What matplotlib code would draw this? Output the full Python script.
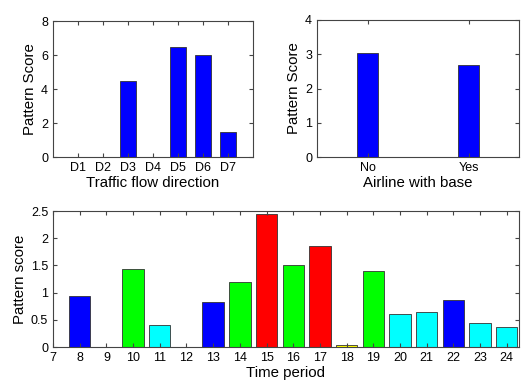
import numpy as np
import matplotlib
matplotlib.use('Agg')
import matplotlib.pyplot as plt

plt.rcParams['font.family'] = ['Liberation Sans', 'DejaVu Sans']

# Data
directions = ['D1', 'D2', 'D3', 'D4', 'D5', 'D6', 'D7']
direction_scores = [0, 0, 4.5, 0, 6.45, 6.0, 1.45]

airline_labels = ['No', 'Yes']
airline_scores = [3.05, 2.7]

periods = [8, 9, 10, 11, 12, 13, 14, 15, 16, 17, 18, 19, 20, 21, 22, 23, 24]
period_scores = [0.94, 0, 1.43, 0.41, 0, 0.83, 1.19, 2.45, 1.5, 1.86,
                 0.04, 1.39, 0.6, 0.65, 0.87, 0.45, 0.37]
period_colors = ['blue', 'blue', 'lime', 'cyan', 'cyan', 'blue', 'lime', 'red',
                 'lime', 'red', 'yellow', 'lime', 'cyan', 'cyan', 'blue', 'cyan', 'cyan']

W, H = 530, 387
fig = plt.figure(figsize=(W / 100, H / 100), dpi=100)


def add_ax(l, t, r, b):
    return fig.add_axes([l / W, 1 - b / H, (r - l) / W, (b - t) / H])


def style(ax):
    for s in ax.spines.values():
        s.set_color('#444444')
        s.set_linewidth(0.8)
    ax.tick_params(direction='in', top=True, right=True, labelsize=9,
                   length=3, color='#444444', pad=3.5)


# Top left
ax1 = add_ax(53, 21, 253, 157)
ax1.bar(np.arange(1, 8), direction_scores, width=0.62, color='blue',
        edgecolor='#333333', linewidth=0.6)
ax1.set_xlim(0, 8)
ax1.set_ylim(0, 8)
ax1.set_xticks(np.arange(1, 8))
ax1.set_xticklabels(directions)
ax1.set_yticks([0, 2, 4, 6, 8])
ax1.set_xlabel('Traffic flow direction', fontsize=10.8, labelpad=1.5)
ax1.set_ylabel('Pattern Score', fontsize=10.8, labelpad=3)
style(ax1)

# Top right
ax2 = add_ax(317, 20, 519, 157)
ax2.bar([1, 2], airline_scores, width=0.2, color='blue',
        edgecolor='#333333', linewidth=0.6)
ax2.set_xlim(0.5, 2.5)
ax2.set_ylim(0, 4)
ax2.set_xticks([1, 2])
ax2.set_xticklabels(airline_labels)
ax2.set_yticks([0, 1, 2, 3, 4])
ax2.set_xlabel('Airline with base', fontsize=10.8, labelpad=1.5)
ax2.set_ylabel('Pattern Score', fontsize=10.8, labelpad=3)
style(ax2)

# Bottom
ax3 = add_ax(53, 211, 519, 347)
ax3.bar(periods, period_scores, width=0.8, color=period_colors,
        edgecolor='#333333', linewidth=0.6)
ax3.set_xlim(7, 24.46)
ax3.set_ylim(0, 2.5)
ax3.set_xticks(np.arange(7, 25))
ax3.set_yticks([0, 0.5, 1, 1.5, 2, 2.5])
ax3.set_yticklabels(['0', '0.5', '1', '1.5', '2', '2.5'])
ax3.set_xlabel('Time period', fontsize=10.8, labelpad=1.5)
ax3.set_ylabel('Pattern score', fontsize=10.8, labelpad=3)
style(ax3)

fig.savefig('out.png', dpi=100)
